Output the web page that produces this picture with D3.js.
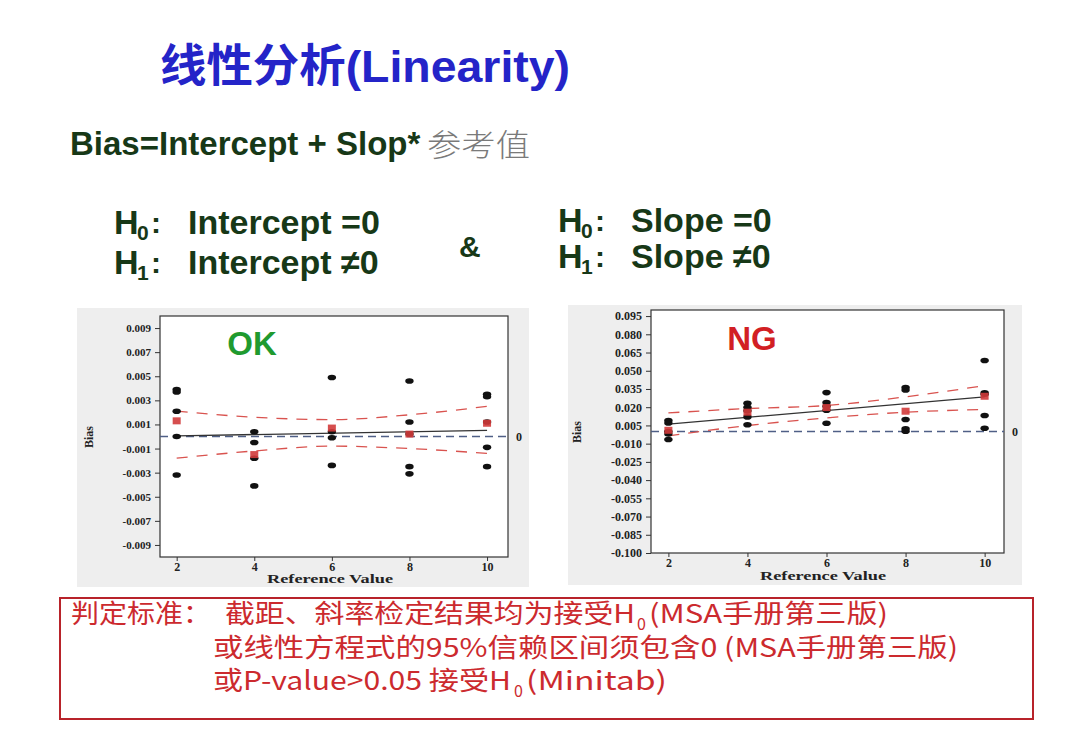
<!DOCTYPE html>
<html>
<head>
<meta charset="utf-8">
<script src="https://cdn.jsdelivr.net/npm/d3@7"></script>
<style>
  body { margin: 0; background: #fff; }
</style>
</head>
<body>
<svg id="chart" width="1080" height="740"></svg>
<script>
// reference parts (x axis)
const refValues = [2, 4, 6, 8, 10];

// OK chart: bias readings per part, part means, fit line ends, 95% CI band
const okBias = [
  [0.0039, 0.0037, 0.0021, 0.0000, -0.0032],
  [0.0004, -0.0005, -0.0018, -0.0041],
  [0.0049, 0.0004, -0.0001, -0.0024],
  [0.0046, 0.0012, 0.0002, -0.0025, -0.0031],
  [0.0035, 0.0033, 0.0012, -0.0009, -0.0025]
];
const okMean = [0.0013, -0.0015, 0.0007, 0.0002, 0.0011];
const okFit = [0.00005, 0.0005];
const okUpper = [0.0021, 0.0016, 0.0014, 0.0018, 0.0025];
const okLower = [-0.0018, -0.0012, -0.0008, -0.0010, -0.0014];
const okTicks = [0.009, 0.007, 0.005, 0.003, 0.001, -0.001, -0.003, -0.005, -0.007, -0.009];

// NG chart
const ngBias = [
  [0.0090, 0.0070, 0.0000, -0.0020, -0.0066],
  [0.0233, 0.0200, 0.0170, 0.0120, 0.0055],
  [0.0320, 0.0238, 0.0208, 0.0175, 0.0068],
  [0.0362, 0.0342, 0.0099, 0.0022, 0.0003],
  [0.0584, 0.0318, 0.0307, 0.0132, 0.0027]
];
const ngMean = [0.0010, 0.0159, 0.0197, 0.0167, 0.0290];
const ngFit = [0.0060, 0.0285];
const ngUpper = [0.0153, 0.0189, 0.0214, 0.0285, 0.0378];
const ngLower = [-0.0036, 0.0049, 0.0112, 0.0159, 0.0181];
const ngTicks = [0.095, 0.080, 0.065, 0.050, 0.035, 0.020, 0.005, -0.010, -0.025, -0.040, -0.055, -0.070, -0.085, -0.100];

const svg = d3.select("#chart");
const green = "#173817";

// ---- header texts ----
svg.append("text")
  .attr("x", 160).attr("y", 82)
  .attr("textLength", 410).attr("lengthAdjust", "spacingAndGlyphs")
  .style("font", "bold 45px 'Liberation Sans', 'Noto Sans CJK SC', sans-serif")
  .style("fill", "#2424c8")
  .text("线性分析(Linearity)");

svg.append("text")
  .attr("x", 70).attr("y", 155)
  .style("font", "bold 33px 'Liberation Sans', sans-serif")
  .style("fill", green)
  .text("Bias=Intercept + Slop*");
svg.append("text")
  .attr("x", 427).attr("y", 156)
  .attr("textLength", 103).attr("lengthAdjust", "spacingAndGlyphs")
  .style("font", "300 31px 'Noto Sans CJK SC', sans-serif")
  .style("fill", "#7a7a7a")
  .text("参考值");

function hypothesis(x, y, sub, body, bodyX) {
  const g = svg.append("g").style("fill", green);
  g.append("text").attr("x", x).attr("y", y)
    .style("font", "bold 34px 'Liberation Sans', sans-serif").text("H");
  g.append("text").attr("x", x + 23).attr("y", y + 6)
    .style("font", "bold 21px 'Liberation Sans', sans-serif").text(sub);
  g.append("text").attr("x", x + 37).attr("y", y - 1)
    .style("font", "bold 30px 'Liberation Sans', sans-serif").text(":");
  g.append("text").attr("x", bodyX).attr("y", y)
    .style("font", "bold 34px 'Liberation Sans', sans-serif").text(body);
}
hypothesis(114, 234, "0", "Intercept =0", 188);
hypothesis(114, 274, "1", "Intercept \u22600", 188);
hypothesis(558, 232, "0", "Slope =0", 631);
hypothesis(558, 268, "1", "Slope \u22600", 631);
svg.append("text")
  .attr("x", 459).attr("y", 257)
  .style("font", "bold 30px 'Liberation Sans', sans-serif")
  .style("fill", green)
  .text("&");

// ---- chart panels ----
function drawPanel(c) {
  const g = svg.append("g");
  g.append("rect")
    .attr("x", c.panel[0]).attr("y", c.panel[1])
    .attr("width", c.panel[2]).attr("height", c.panel[3])
    .attr("fill", "#eeeeee");

  const x = d3.scaleLinear().domain(c.xDomain).range([c.frame[0], c.frame[2]]);
  const y = d3.scaleLinear().domain(c.yDomain).range([c.frame[3], c.frame[1]]);

  g.append("rect")
    .attr("x", c.frame[0]).attr("y", c.frame[1])
    .attr("width", c.frame[2] - c.frame[0]).attr("height", c.frame[3] - c.frame[1])
    .attr("fill", "#fff").attr("stroke", "#333").attr("stroke-width", 1.2);

  const yAxis = g.append("g")
    .attr("transform", "translate(" + c.frame[0] + ",0)")
    .call(d3.axisLeft(y).tickValues(c.ticks).tickSize(5).tickPadding(4)
      .tickFormat(v => v.toFixed(3)));
  const xAxis = g.append("g")
    .attr("transform", "translate(0," + c.frame[3] + ")")
    .call(d3.axisBottom(x).tickValues(refValues).tickSize(4).tickPadding(1));
  [yAxis, xAxis].forEach(a => {
    a.select(".domain").remove();
    a.selectAll("line").attr("stroke", "#333");
    a.selectAll("text").style("font-family", "'Liberation Serif', serif")
      .style("font-weight", "bold").style("fill", "#222");
  });
  yAxis.selectAll("text").style("font-size", c.tickFont + "px");
  xAxis.selectAll("text").style("font-size", "12px");

  // zero reference
  g.append("line")
    .attr("x1", x(c.xDomain[0])).attr("x2", x(c.xDomain[1]))
    .attr("y1", y(0)).attr("y2", y(0))
    .attr("stroke", "#4f5f86").attr("stroke-width", 1.4)
    .attr("stroke-dasharray", "8,5");
  g.append("text")
    .attr("x", x(c.xDomain[1]) + 8).attr("y", y(0) + 4)
    .style("font", "bold 12px 'Liberation Serif', serif").style("fill", "#222")
    .text("0");

  // fit line
  const line = d3.line().x(d => x(d[0])).y(d => y(d[1]));
  g.append("path")
    .datum([[refValues[0], c.fit[0]], [refValues[refValues.length - 1], c.fit[1]]])
    .attr("d", line).attr("fill", "none")
    .attr("stroke", "#333").attr("stroke-width", 1.3);

  // confidence band
  const curve = d3.line().x(d => x(d[0])).y(d => y(d[1])).curve(d3.curveMonotoneX);
  [c.upper, c.lower].forEach(band => {
    g.append("path")
      .datum(refValues.map((r, i) => [r, band[i]]))
      .attr("d", curve).attr("fill", "none")
      .attr("stroke", "#d9534f").attr("stroke-width", 1.3)
      .attr("stroke-dasharray", "11,9");
  });

  // readings
  const pts = [];
  refValues.forEach((r, i) => c.bias[i].forEach(b => pts.push([r, b])));
  g.selectAll("ellipse.pt").data(pts).enter().append("ellipse")
    .attr("class", "pt")
    .attr("cx", d => x(d[0])).attr("cy", d => y(d[1]))
    .attr("rx", 4.2).attr("ry", 2.8)
    .attr("fill", "#111");

  // part means
  g.selectAll("rect.mean").data(refValues.map((r, i) => [r, c.mean[i]])).enter()
    .append("rect").attr("class", "mean")
    .attr("x", d => x(d[0]) - 4).attr("y", d => y(d[1]) - 3.5)
    .attr("width", 8).attr("height", 7)
    .attr("fill", "#d23b3b").attr("opacity", 0.9);

  // axis titles
  g.append("text")
    .attr("transform", "translate(" + c.yTitle[0] + "," + c.yTitle[1] + ") rotate(-90)")
    .attr("text-anchor", "middle")
    .style("font", "bold 12px 'Liberation Serif', serif").style("fill", "#222")
    .text("Bias");
  g.append("text")
    .attr("x", c.xTitle[0] - 63).attr("y", c.xTitle[1])
    .attr("textLength", 126).attr("lengthAdjust", "spacingAndGlyphs")
    .style("font", "bold 12px 'Liberation Serif', serif").style("fill", "#222")
    .text("Reference Value");

  // verdict
  g.append("text")
    .attr("x", c.verdict[0]).attr("y", c.verdict[1])
    .attr("text-anchor", "middle")
    .style("font", "bold 33px 'Liberation Sans', sans-serif")
    .style("fill", c.verdictColor)
    .text(c.verdictText);
}

drawPanel({
  panel: [77, 308, 452, 279],
  frame: [160, 316, 508, 557],
  xDomain: [1.57, 10.54],
  yDomain: [-0.01, 0.01],
  ticks: okTicks, tickFont: 11,
  bias: okBias, mean: okMean, fit: okFit, upper: okUpper, lower: okLower,
  yTitle: [93, 437], xTitle: [330, 583],
  verdict: [252, 355], verdictColor: "#1f9a2f", verdictText: "OK"
});

drawPanel({
  panel: [568, 305, 454, 280],
  frame: [651, 310, 1004, 553],
  xDomain: [1.56, 10.49],
  yDomain: [-0.1, 0.1],
  ticks: ngTicks, tickFont: 12,
  bias: ngBias, mean: ngMean, fit: ngFit, upper: ngUpper, lower: ngLower,
  yTitle: [581, 432], xTitle: [823, 580],
  verdict: [752, 350], verdictColor: "#d21f24", verdictText: "NG"
});

// ---- criteria box ----
const red = "#cc2a2e";
svg.append("rect")
  .attr("x", 60).attr("y", 598).attr("width", 973).attr("height", 121)
  .attr("fill", "none").attr("stroke", "#b8232a").attr("stroke-width", 2);

function boxText(x, y, str, len, size) {
  const t = svg.append("text").attr("x", x).attr("y", y)
    .style("font", (size || 26) + "px 'Noto Sans CJK SC', sans-serif")
    .style("fill", red).text(str);
  if (len) t.attr("textLength", len).attr("lengthAdjust", "spacingAndGlyphs");
  return t;
}
boxText(71, 623, "判定标准：", 140);
boxText(225, 623, "截距、斜率检定结果均为接受H", 410);
boxText(637, 630, "0", null, 16);
boxText(649, 623, "(MSA手册第三版)", 239);
boxText(213, 657, "或线性方程式的95%信赖区间须包含0 (MSA手册第三版)", 745);
boxText(213, 690, "或P-value>0.05 接受H", 298);
boxText(514, 697, "0", null, 16);
boxText(526, 690, "(Minitab)", 141);
</script>
</body>
</html>
